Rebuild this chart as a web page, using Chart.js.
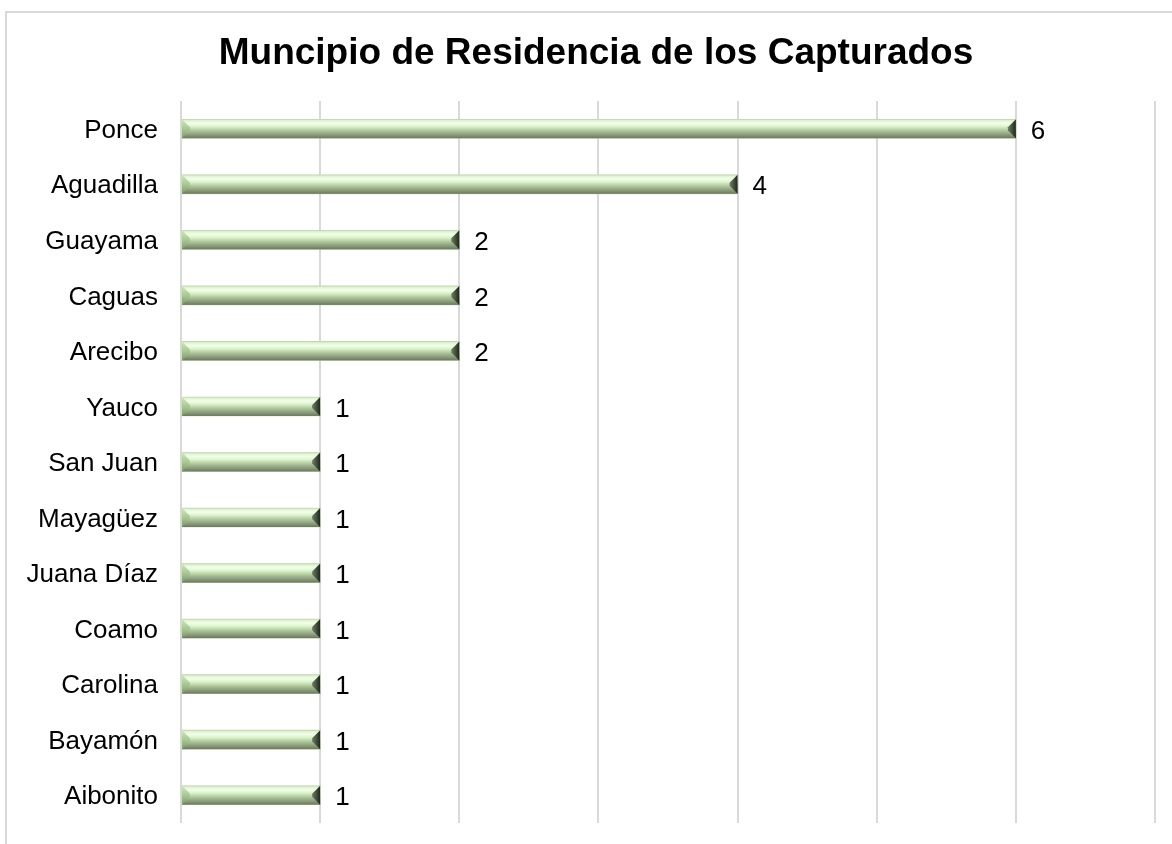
<!DOCTYPE html>
<html>
<head>
<meta charset="utf-8">
<script src="https://cdn.jsdelivr.net/npm/chart.js@4.4.1/dist/chart.umd.min.js"></script>
<style>
  html, body { margin: 0; padding: 0; background: #fff; }
  #wrap { position: relative; width: 1172px; height: 844px; overflow: hidden; }
  #frame {
    position: absolute; left: 5px; top: 11px; width: 1180px; height: 850px;
    border: 2px solid #d9d9d9; box-sizing: border-box;
  }
  canvas { position: absolute; left: 0; top: 0; }
</style>
</head>
<body>
<div id="wrap">
  <div id="frame"></div>
  <canvas id="chart" width="1172" height="844"></canvas>
</div>
<script>
// ---- data ----
const municipios = ['Ponce', 'Aguadilla', 'Guayama', 'Caguas', 'Arecibo', 'Yauco', 'San Juan',
    'Mayagüez', 'Juana Díaz', 'Coamo', 'Carolina', 'Bayamón', 'Aibonito'];
const capturados = [6, 4, 2, 2, 2, 1, 1, 1, 1, 1, 1, 1, 1];
const xMax = 7;

const FONT = '"Liberation Sans", Arial, sans-serif';

// title drawn centred on the frame (built-in title is tied to layout padding)
const frameTitle = {
    id: 'frameTitle',
    afterDraw(chart) {
        const ctx = chart.ctx;
        ctx.save();
        ctx.fillStyle = '#000';
        ctx.font = 'bold 37px ' + FONT;
        ctx.textAlign = 'center';
        ctx.textBaseline = 'middle';
        ctx.fillText('Muncipio de Residencia de los Capturados', 596, 54);
        ctx.restore();
    }
};

// shaded "beveled" bar look, drawn over each bar element
const bevelBars = {
    id: 'bevelBars',
    afterDatasetsDraw(chart) {
        const ctx = chart.ctx;
        const meta = chart.getDatasetMeta(0);
        meta.data.forEach((bar, i) => {
            const { x, y, base, height } = bar.getProps(['x', 'y', 'base', 'height'], true);
            const x0 = Math.min(base, x), x1 = Math.max(base, x);
            const top = y - height / 2, bottom = y + height / 2;
            const b = height * 0.42;

            ctx.save();
            const g = ctx.createLinearGradient(0, top, 0, bottom);
            g.addColorStop(0, '#c3d3b6');
            g.addColorStop(0.07, '#e0f3d3');
            g.addColorStop(0.22, '#f1ffe8');
            g.addColorStop(0.38, '#dcf2cd');
            g.addColorStop(0.52, '#bed7ab');
            g.addColorStop(0.68, '#a1b690');
            g.addColorStop(0.84, '#879877');
            g.addColorStop(1, '#69785c');
            ctx.fillStyle = g;
            ctx.fillRect(x0, top, x1 - x0, height);

            // left facet
            const gl = ctx.createLinearGradient(0, top, 0, bottom);
            gl.addColorStop(0, '#cfe8bd');
            gl.addColorStop(0.5, '#a9c893');
            gl.addColorStop(1, '#7c9a6c');
            ctx.fillStyle = gl;
            ctx.beginPath();
            ctx.moveTo(x0, top);
            ctx.lineTo(x0 + b, top + b);
            ctx.lineTo(x0 + b, bottom - b);
            ctx.lineTo(x0, bottom);
            ctx.closePath();
            ctx.fill();

            // right facet
            const gr = ctx.createLinearGradient(x1 - b, 0, x1, 0);
            gr.addColorStop(0, '#6c7c62');
            gr.addColorStop(0.55, '#434f3c');
            gr.addColorStop(1, '#1e251b');
            ctx.fillStyle = gr;
            ctx.beginPath();
            ctx.moveTo(x1, top);
            ctx.lineTo(x1 - b, top + b);
            ctx.lineTo(x1 - b, bottom - b);
            ctx.lineTo(x1, bottom);
            ctx.closePath();
            ctx.fill();

            // value label
            ctx.fillStyle = '#000';
            ctx.font = '26px ' + FONT;
            ctx.textAlign = 'left';
            ctx.textBaseline = 'middle';
            ctx.fillText(String(capturados[i]), x1 + 15, y + 3);
            ctx.restore();
        });
    }
};

new Chart(document.getElementById('chart'), {
    type: 'bar',
    data: {
        labels: municipios,
        datasets: [{
            data: capturados,
            backgroundColor: '#c3dab1',
            borderWidth: 0,
            barThickness: 19
        }]
    },
    options: {
        indexAxis: 'y',
        responsive: false,
        animation: false,
        layout: { padding: { left: 8, right: 17, top: 101, bottom: 21 } },
        plugins: {
            legend: { display: false },
            tooltip: { enabled: false },
            title: { display: false }
        },
        scales: {
            x: {
                min: 0,
                max: xMax,
                ticks: { display: false, stepSize: 1 },
                grid: { color: '#d9d9d9', lineWidth: 2, drawTicks: false },
                border: { display: false },
                afterFit: (scale) => { scale.height = 0; }
            },
            y: {
                ticks: {
                    color: '#000',
                    font: { family: FONT, size: 26 },
                    padding: 23,
                    labelOffset: 2
                },
                grid: { display: false, drawTicks: false },
                border: { display: false },
                afterFit: (scale) => {
                    scale.width = 173;
                    scale.paddingTop = 0;
                    scale.paddingBottom = 0;
                }
            }
        }
    },
    plugins: [bevelBars, frameTitle]
});
</script>
</body>
</html>
